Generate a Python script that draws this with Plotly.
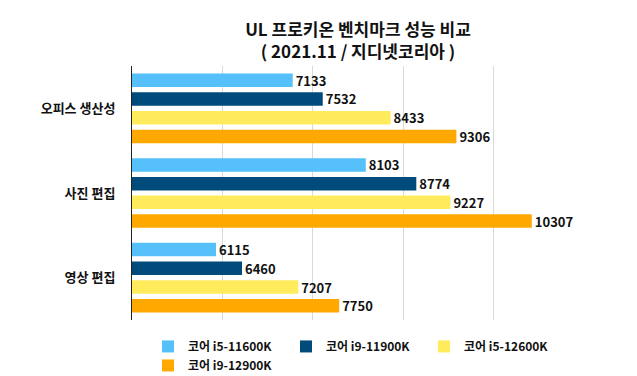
import plotly.graph_objects as go

categories = ["오피스 생산성", "사진 편집", "영상 편집"]
series_names = ["코어 i5-11600K", "코어 i9-11900K", "코어 i5-12600K", "코어 i9-12900K"]
values_i5_11600k = [7133, 8103, 6115]
values_i9_11900k = [7532, 8774, 6460]
values_i5_12600k = [8433, 9227, 7207]
values_i9_12900k = [9306, 10307, 7750]
colors = ["#55C0FA", "#004A7C", "#FFEB5C", "#FFA800"]

series_values = [values_i5_11600k, values_i9_11900k, values_i5_12600k, values_i9_12900k]

font_family = "Noto Sans CJK KR, Noto Sans, sans-serif"

# the page adds an 8px body margin, so the figure is sized to fit inside the window
W, H = 629, 368

fig = go.Figure()
for name, vals, col in zip(series_names, series_values, colors):
    fig.add_trace(go.Bar(
        y=categories, x=vals, name=name, orientation="h",
        marker=dict(color=col, line=dict(width=0)),
        text=[str(v) for v in vals], textposition="outside",
        constraintext="none",
        textfont=dict(family=font_family, size=13, color="#111", weight="bold"),
        cliponaxis=False,
    ))

fig.update_layout(
    width=W, height=H,
    margin=dict(l=124, r=53, t=58, b=56, autoexpand=False),
    paper_bgcolor="white", plot_bgcolor="white",
    barmode="group", bargap=0.115, bargroupgap=0.28,
    title=dict(
        text="UL 프로키온 벤치마크 성능 비교<br>( 2021.11 / 지디넷코리아 )",
        x=350 / W, xanchor="center", xref="container",
        y=1 - 28 / H, yanchor="top", yref="container",
        font=dict(family=font_family, size=17, color="#111", weight="bold"),
    ),
    xaxis=dict(range=[5000, 11000], dtick=1200, tick0=5000, showticklabels=False,
               showgrid=True, gridcolor="#D9D9D9", gridwidth=1, zeroline=False,
               ticks="", automargin=False),
    yaxis=dict(autorange="reversed", showline=True, linecolor="#222", linewidth=1,
               ticks="", ticklabelstandoff=13, automargin=False,
               tickfont=dict(family=font_family, size=13, color="#111", weight="bold")),
    legend=dict(orientation="h", x=0.0354, xanchor="left", y=-0.047, yanchor="top",
                entrywidth=93, entrywidthmode="pixels", traceorder="normal",
                font=dict(family=font_family, size=12, color="#111", weight="bold"),
                itemwidth=30, tracegroupgap=0),
    showlegend=True,
)

fig.write_html("out.html")
